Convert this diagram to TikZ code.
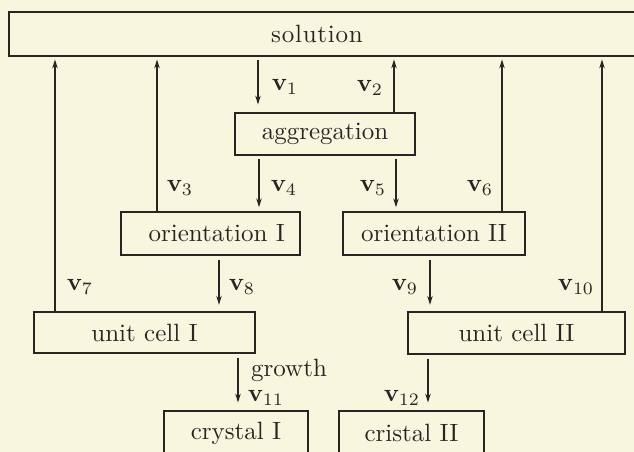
\documentclass[tikz,border=0pt]{standalone}
\usetikzlibrary{arrows.meta}
\definecolor{paper}{RGB}{249,246,224}
\definecolor{ink}{RGB}{40,38,34}
\begin{document}
\begin{tikzpicture}[x=0.4pt,y=-0.4pt,
  box/.style={draw=ink,line width=0.75pt,rectangle,inner sep=0pt,text=ink,font=\fontsize{10}{12}\selectfont},
  arr/.style={draw=ink,line width=0.5pt,-{Stealth[length=3.6pt,width=2.2pt]}},
  lab/.style={text=ink,inner sep=0pt,font=\fontsize{10}{12}\selectfont}]
\fill[paper] (0,0) rectangle (634,452);
\useasboundingbox (0,0) rectangle (634,452);
\begin{scope}
\clip (0,0) rectangle (634,452);
% boxes
\node[box,minimum width=636*0.4pt,minimum height=44*0.4pt] (sol) at (327,34) {s\kern0.3pt o\kern0.3pt l\kern0.3pt u\kern0.3pt t\kern0.3pt i\kern0.3pt o\kern0.3pt n\kern8pt};
\node[box,minimum width=180*0.4pt,minimum height=42*0.4pt] (agg) at (325,134) {aggregation};
\node[box,minimum width=179*0.4pt,minimum height=43*0.4pt] (o1) at (210.5,233.5) {\kern5pt orientation I};
\node[box,minimum width=182*0.4pt,minimum height=43*0.4pt] (o2) at (434,233.5) {orientation II};
\node[box,minimum width=221*0.4pt,minimum height=41*0.4pt] (u1) at (144.5,332.5) {unit cell I};
\node[box,minimum width=217*0.4pt,minimum height=42*0.4pt] (u2) at (516.5,333) {unit cell II};
\node[box,minimum width=144*0.4pt,minimum height=44*0.4pt] (c1) at (236,433) {crystal I};
\node[box,minimum width=145*0.4pt,minimum height=44*0.4pt] (c2) at (411.5,433) {cristal II};
% connectors
\draw[arr,shorten <=1.2pt,shorten >=3pt] (sol.south -| 258,0) -- (agg.north -| 258,0);
\draw[arr,shorten >=1pt] (agg.north -| 394,0) -- (sol.south -| 394,0);
\draw[arr,shorten >=1pt] (o1.north -| 157,0) -- (sol.south -| 157,0);
\draw[arr,shorten <=1.2pt,shorten >=1.5pt] (agg.south -| 259,0) -- (o1.north -| 259,0);
\draw[arr,shorten <=1.2pt,shorten >=1.5pt] (agg.south -| 396,0) -- (o2.north -| 396,0);
\draw[arr,shorten >=1pt] (o2.north -| 502,0) -- (sol.south -| 502,0);
\draw[arr,shorten >=1pt] (u1.north -| 55,0) -- (sol.south -| 55,0);
\draw[arr,shorten <=1.5pt,shorten >=2.5pt] (o1.south -| 219,0) -- (u1.north -| 219,0);
\draw[arr,shorten <=1.5pt,shorten >=2.5pt] (o2.south -| 430,0) -- (u2.north -| 430,0);
\draw[arr,shorten >=1pt] (u2.north -| 602,0) -- (sol.south -| 602,0);
\draw[arr,shorten <=1.5pt,shorten >=3pt] (u1.south -| 238,0) -- (c1.north -| 238,0);
\draw[arr,shorten <=1.5pt,shorten >=3pt] (u2.south -| 428,0) -- (c2.north -| 428,0);
% labels
\node[lab] (l1) at (285,87) {$\mathbf{v}_1$};
\node[lab] (l2) at (370,88) {$\mathbf{v}_2$};
\node[lab] (l3) at (180,188) {$\mathbf{v}_3$};
\node[lab] (l4) at (284,188) {$\mathbf{v}_4$};
\node[lab] (l5) at (373,188) {$\mathbf{v}_5$};
\node[lab] (l6) at (480,188) {$\mathbf{v}_6$};
\node[lab] (l7) at (80,287) {$\mathbf{v}_7$};
\node[lab] (l8) at (242,287) {$\mathbf{v}_8$};
\node[lab] (l9) at (405,287) {$\mathbf{v}_9$};
\node[lab] (l10) at (576,287) {$\mathbf{v}_{10}$};
\node[lab] (gr) at (289,370) {growth};
\node[lab] (l11) at (266,398) {$\mathbf{v}_{11}$};
\node[lab] (l12) at (402,398) {$\mathbf{v}_{12}$};
\end{scope}
\end{tikzpicture}
\end{document}
